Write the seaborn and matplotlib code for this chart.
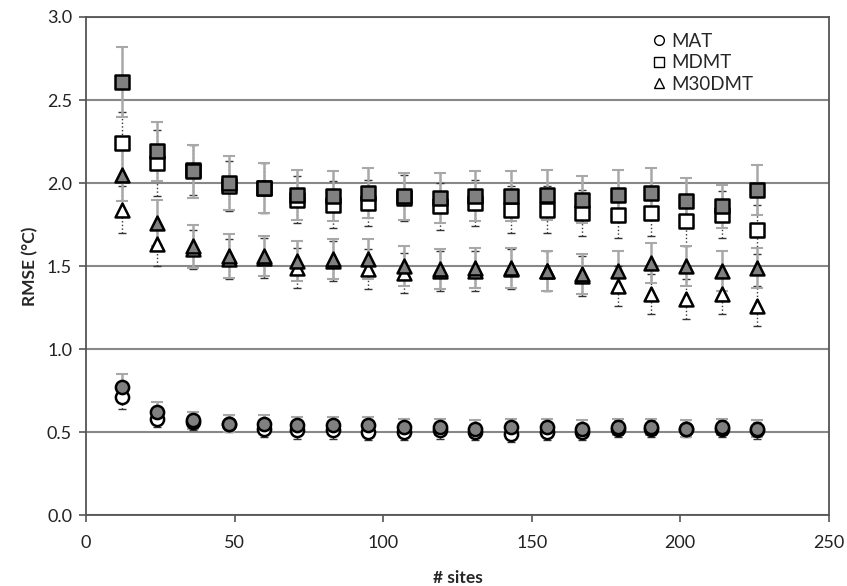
import numpy as np
import pandas as pd
import matplotlib
matplotlib.use("Agg")
import matplotlib.pyplot as plt
import seaborn as sns
from matplotlib.lines import Line2D

# number of sites
sites = [12, 24, 36, 48, 60, 71, 83, 95, 107, 119, 131, 143, 155, 167, 179, 190, 202, 214, 226]

# MAT (circles)
mat_fill = [0.77, 0.62, 0.57, 0.55, 0.55, 0.54, 0.54, 0.54, 0.53, 0.53, 0.52, 0.53, 0.53, 0.52, 0.53, 0.53, 0.52, 0.53, 0.52]
mat_open = [0.71, 0.58, 0.56, 0.55, 0.52, 0.51, 0.51, 0.50, 0.50, 0.51, 0.50, 0.49, 0.50, 0.50, 0.52, 0.52, 0.52, 0.52, 0.51]
mat_fill_err = [0.08, 0.06, 0.05, 0.05, 0.05, 0.05, 0.05, 0.05, 0.05, 0.05, 0.05, 0.05, 0.05, 0.05, 0.05, 0.05, 0.05, 0.05, 0.05]
mat_open_err = [0.07, 0.05, 0.05, 0.05, 0.05, 0.05, 0.05, 0.05, 0.05, 0.05, 0.05, 0.05, 0.05, 0.05, 0.05, 0.05, 0.05, 0.05, 0.05]

# MDMT (squares)
mdmt_fill = [2.61, 2.19, 2.07, 2.00, 1.97, 1.93, 1.92, 1.94, 1.92, 1.91, 1.92, 1.92, 1.93, 1.90, 1.93, 1.94, 1.89, 1.86, 1.96]
mdmt_open = [2.24, 2.12, 2.08, 1.98, 1.97, 1.90, 1.87, 1.88, 1.91, 1.86, 1.88, 1.84, 1.84, 1.82, 1.81, 1.82, 1.77, 1.81, 1.72]
mdmt_fill_err = [0.21, 0.18, 0.16, 0.16, 0.15, 0.15, 0.15, 0.15, 0.14, 0.15, 0.15, 0.15, 0.15, 0.14, 0.15, 0.15, 0.14, 0.13, 0.15]
mdmt_open_err = [0.19, 0.20, 0.15, 0.15, 0.15, 0.14, 0.14, 0.14, 0.14, 0.14, 0.14, 0.14, 0.14, 0.14, 0.14, 0.14, 0.15, 0.14, 0.15]

# M30DMT (triangles)
m30_fill = [2.05, 1.76, 1.62, 1.56, 1.56, 1.53, 1.54, 1.54, 1.50, 1.48, 1.49, 1.49, 1.47, 1.45, 1.47, 1.52, 1.50, 1.47, 1.49]
m30_open = [1.84, 1.63, 1.60, 1.54, 1.55, 1.49, 1.53, 1.48, 1.46, 1.47, 1.47, 1.48, 1.47, 1.44, 1.38, 1.33, 1.30, 1.33, 1.26]
m30_fill_err = [0.16, 0.14, 0.13, 0.13, 0.12, 0.12, 0.12, 0.12, 0.12, 0.12, 0.12, 0.12, 0.12, 0.12, 0.12, 0.12, 0.12, 0.12, 0.12]
m30_open_err = [0.14, 0.13, 0.12, 0.12, 0.12, 0.12, 0.12, 0.12, 0.12, 0.12, 0.12, 0.12, 0.12, 0.12, 0.12, 0.12, 0.12, 0.12, 0.12]

sns.set_style("white")
plt.rcParams['font.family'] = ['Lato', 'DejaVu Sans']

fig = plt.figure(figsize=(8.47, 5.86), dpi=100)
ax = fig.add_axes([0.1015, 0.121, 0.877, 0.850])

series = [
    ("o", mat_fill, mat_open, mat_fill_err, mat_open_err, 9.5),
    ("s", mdmt_fill, mdmt_open, mdmt_fill_err, mdmt_open_err, 10),
    ("^", m30_fill, m30_open, m30_fill_err, m30_open_err, 10),
]

# error bars first
for mk, yf, yo, ef, eo, ms in series:
    eb = ax.errorbar(sites, yo, yerr=eo, fmt='none', ecolor='#333333', elinewidth=1.0,
                     capsize=3, capthick=1.0, zorder=2)
    eb[2][0].set_linestyle(':')
    ax.errorbar(sites, yf, yerr=ef, fmt='none', ecolor='#a8a8a8', elinewidth=1.8,
                capsize=4, capthick=1.5, zorder=2)

# open markers, then filled markers on top
for mk, yf, yo, ef, eo, ms in series:
    sns.scatterplot(x=sites, y=yo, marker=mk, s=ms ** 2, color='white',
                    edgecolor='black', linewidth=1.8, ax=ax, zorder=3, legend=False)
for mk, yf, yo, ef, eo, ms in series:
    sns.scatterplot(x=sites, y=yf, marker=mk, s=ms ** 2, color='#808080',
                    edgecolor='black', linewidth=1.8, ax=ax, zorder=4, legend=False)

ax.set_xlim(0, 250)
ax.set_ylim(0, 3.0)
ax.set_xticks(np.arange(0, 251, 50))
ax.set_yticks(np.arange(0, 3.01, 0.5))
ax.set_yticklabels([f"{v:.1f}" for v in np.arange(0, 3.01, 0.5)])
ax.yaxis.grid(True, color='#888888', linewidth=1.5, zorder=0)
ax.set_axisbelow(True)
for sp in ax.spines.values():
    sp.set_color('#555555')
    sp.set_linewidth(1.3)
ax.tick_params(axis='both', direction='out', length=5, width=1.2, color='#555555',
               labelsize=13, labelcolor='#222222', pad=5)
ax.tick_params(axis='x', pad=9)
ax.tick_params(bottom=True, left=True)

ax.set_xlabel('# sites', fontsize=12.5, fontweight='bold', labelpad=14)
ax.set_ylabel('RMSE (°C)', fontsize=12.5, fontweight='bold', labelpad=6)

handles = [
    Line2D([], [], marker='o', ls='none', mfc='white', mec='black', ms=7, mew=1.0),
    Line2D([], [], marker='s', ls='none', mfc='white', mec='black', ms=7, mew=1.0),
    Line2D([], [], marker='^', ls='none', mfc='white', mec='black', ms=7, mew=1.0),
]
ax.legend(handles, ['MAT', 'MDMT', 'M30DMT'], loc='upper left', bbox_to_anchor=(0.741, 0.995),
          frameon=False, fontsize=13.5, handletextpad=0.15, labelspacing=0.25,
          handlelength=1.0, borderaxespad=0.3)

fig.savefig('out.png', dpi=100)
